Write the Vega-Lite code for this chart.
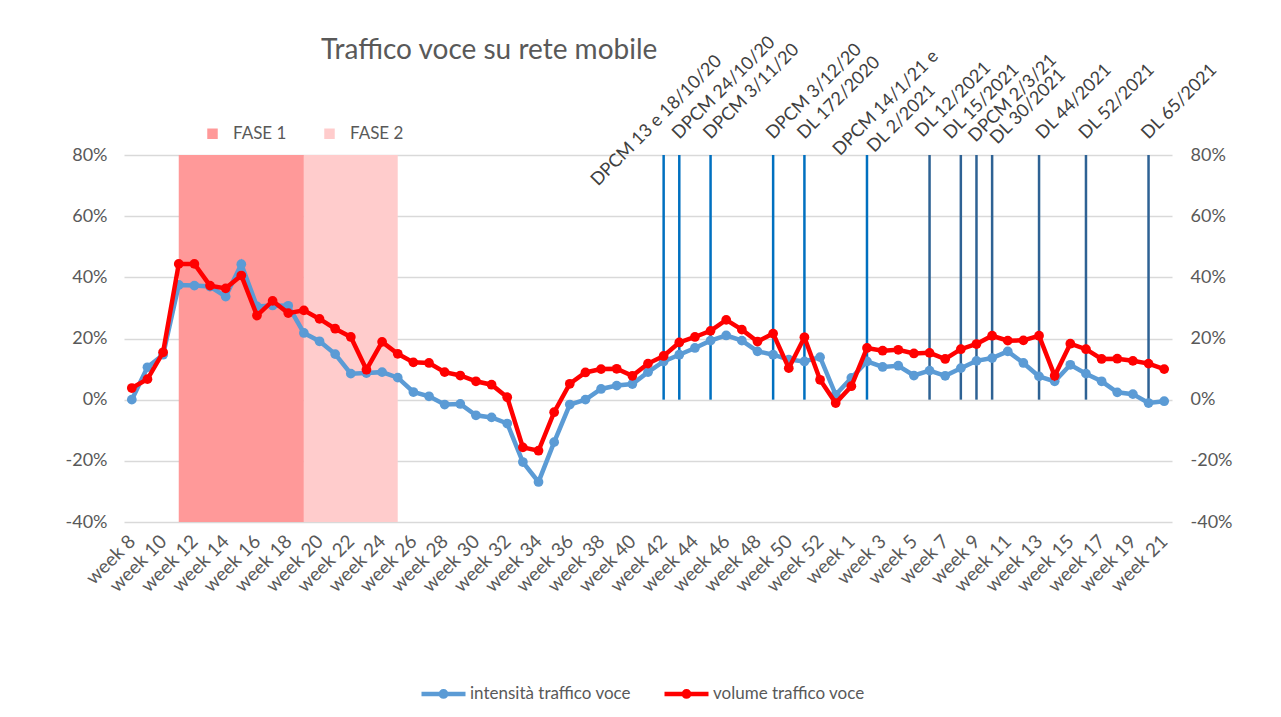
{
  "$schema": "https://vega.github.io/schema/vega-lite/v6.json",
  "autosize": {"type": "none"},
  "padding": {"left": 124, "top": 155, "right": 109, "bottom": 195},
  "width": 1048,
  "height": 367,
  "background": "white",
  "config": {
    "font": "Lato",
    "view": {"stroke": null},
    "axis": {"labelFont": "Lato", "labelColor": "#595959", "labelFontSize": 18, "title": null, "domain": false, "ticks": false},
    "legend": {"labelFont": "Lato", "labelColor": "#595959", "labelFontSize": 17, "labelLimit": 0},
    "text": {"font": "Lato", "fontSize": 18, "color": "#404040", "angle": -45}
  },
  "title": {"text": "Traffico voce su rete mobile", "anchor": "start", "dx": 256, "dy": 36, "fontSize": 28, "font": "Lato", "fontWeight": "normal", "color": "#595959"},
  "datasets": {
    "traffico": [
      {"w": "2020-08", "intensità traffico voce": 0.0, "volume traffico voce": 3.8},
      {"w": "2020-09", "intensità traffico voce": 10.6, "volume traffico voce": 6.7},
      {"w": "2020-10", "intensità traffico voce": 14.7, "volume traffico voce": 15.5},
      {"w": "2020-11", "intensità traffico voce": 37.5, "volume traffico voce": 44.4},
      {"w": "2020-12", "intensità traffico voce": 37.3, "volume traffico voce": 44.4},
      {"w": "2020-13", "intensità traffico voce": 37.0, "volume traffico voce": 37.3},
      {"w": "2020-14", "intensità traffico voce": 33.7, "volume traffico voce": 36.4},
      {"w": "2020-15", "intensità traffico voce": 44.3, "volume traffico voce": 40.6},
      {"w": "2020-16", "intensità traffico voce": 30.5, "volume traffico voce": 27.5},
      {"w": "2020-17", "intensità traffico voce": 30.8, "volume traffico voce": 32.3},
      {"w": "2020-18", "intensità traffico voce": 30.7, "volume traffico voce": 28.3},
      {"w": "2020-19", "intensità traffico voce": 21.8, "volume traffico voce": 29.2},
      {"w": "2020-20", "intensità traffico voce": 19.1, "volume traffico voce": 26.4},
      {"w": "2020-21", "intensità traffico voce": 14.9, "volume traffico voce": 23.2},
      {"w": "2020-22", "intensità traffico voce": 8.5, "volume traffico voce": 20.5},
      {"w": "2020-23", "intensità traffico voce": 8.7, "volume traffico voce": 9.8},
      {"w": "2020-24", "intensità traffico voce": 9.0, "volume traffico voce": 18.9},
      {"w": "2020-25", "intensità traffico voce": 7.2, "volume traffico voce": 15.0},
      {"w": "2020-26", "intensità traffico voce": 2.5, "volume traffico voce": 12.2},
      {"w": "2020-27", "intensità traffico voce": 1.1, "volume traffico voce": 12.0},
      {"w": "2020-28", "intensità traffico voce": -1.6, "volume traffico voce": 9.0},
      {"w": "2020-29", "intensità traffico voce": -1.4, "volume traffico voce": 7.9},
      {"w": "2020-30", "intensità traffico voce": -5.1, "volume traffico voce": 6.0},
      {"w": "2020-31", "intensità traffico voce": -5.8, "volume traffico voce": 4.9},
      {"w": "2020-32", "intensità traffico voce": -7.8, "volume traffico voce": 0.8},
      {"w": "2020-33", "intensità traffico voce": -20.4, "volume traffico voce": -15.6},
      {"w": "2020-34", "intensità traffico voce": -26.9, "volume traffico voce": -16.7},
      {"w": "2020-35", "intensità traffico voce": -13.9, "volume traffico voce": -4.1},
      {"w": "2020-36", "intensità traffico voce": -1.6, "volume traffico voce": 5.2},
      {"w": "2020-37", "intensità traffico voce": 0.0, "volume traffico voce": 8.9},
      {"w": "2020-38", "intensità traffico voce": 3.5, "volume traffico voce": 10.0},
      {"w": "2020-39", "intensità traffico voce": 4.6, "volume traffico voce": 10.1},
      {"w": "2020-40", "intensità traffico voce": 5.1, "volume traffico voce": 7.8},
      {"w": "2020-41", "intensità traffico voce": 9.0, "volume traffico voce": 11.8},
      {"w": "2020-42", "intensità traffico voce": 12.5, "volume traffico voce": 14.3},
      {"w": "2020-43", "intensità traffico voce": 14.7, "volume traffico voce": 18.7},
      {"w": "2020-44", "intensità traffico voce": 16.9, "volume traffico voce": 20.5},
      {"w": "2020-45", "intensità traffico voce": 19.3, "volume traffico voce": 22.5},
      {"w": "2020-46", "intensità traffico voce": 21.0, "volume traffico voce": 26.1},
      {"w": "2020-47", "intensità traffico voce": 19.3, "volume traffico voce": 22.9},
      {"w": "2020-48", "intensità traffico voce": 15.8, "volume traffico voce": 19.0},
      {"w": "2020-49", "intensità traffico voce": 14.7, "volume traffico voce": 21.6},
      {"w": "2020-50", "intensità traffico voce": 13.1, "volume traffico voce": 10.3},
      {"w": "2020-51", "intensità traffico voce": 12.5, "volume traffico voce": 20.4},
      {"w": "2020-52", "intensità traffico voce": 13.9, "volume traffico voce": 6.5},
      {"w": "2020-53", "intensità traffico voce": 1.6, "volume traffico voce": -1.1},
      {"w": "2021-01", "intensità traffico voce": 7.1, "volume traffico voce": 4.4},
      {"w": "2021-02", "intensità traffico voce": 12.5, "volume traffico voce": 16.9},
      {"w": "2021-03", "intensità traffico voce": 10.7, "volume traffico voce": 16.0},
      {"w": "2021-04", "intensità traffico voce": 11.1, "volume traffico voce": 16.3},
      {"w": "2021-05", "intensità traffico voce": 7.9, "volume traffico voce": 15.1},
      {"w": "2021-06", "intensità traffico voce": 9.5, "volume traffico voce": 15.3},
      {"w": "2021-07", "intensità traffico voce": 7.8, "volume traffico voce": 13.3},
      {"w": "2021-08", "intensità traffico voce": 10.3, "volume traffico voce": 16.5},
      {"w": "2021-09", "intensità traffico voce": 12.7, "volume traffico voce": 18.2},
      {"w": "2021-10", "intensità traffico voce": 13.6, "volume traffico voce": 20.9},
      {"w": "2021-11", "intensità traffico voce": 15.8, "volume traffico voce": 19.3},
      {"w": "2021-12", "intensità traffico voce": 12.0, "volume traffico voce": 19.4},
      {"w": "2021-13", "intensità traffico voce": 7.6, "volume traffico voce": 20.9},
      {"w": "2021-14", "intensità traffico voce": 6.0, "volume traffico voce": 7.8},
      {"w": "2021-15", "intensità traffico voce": 11.4, "volume traffico voce": 18.3},
      {"w": "2021-16", "intensità traffico voce": 8.5, "volume traffico voce": 16.5},
      {"w": "2021-17", "intensità traffico voce": 6.0, "volume traffico voce": 13.3},
      {"w": "2021-18", "intensità traffico voce": 2.4, "volume traffico voce": 13.4},
      {"w": "2021-19", "intensità traffico voce": 1.8, "volume traffico voce": 12.7},
      {"w": "2021-20", "intensità traffico voce": -1.1, "volume traffico voce": 11.8},
      {"w": "2021-21", "intensità traffico voce": -0.5, "volume traffico voce": 10.0}
    ],
    "fasi": [
      {"fase": "FASE 1", "w": "2020-11", "w2": "2020-19"},
      {"fase": "FASE 2", "w": "2020-19", "w2": "2020-25"}
    ],
    "decreti": [
      {"w": "2020-42", "label": "DPCM 13 e 18/10/20"},
      {"w": "2020-43", "label": "DPCM 24/10/20"},
      {"w": "2020-45", "label": "DPCM 3/11/20"},
      {"w": "2020-49", "label": "DPCM 3/12/20"},
      {"w": "2020-51", "label": "DL 172/2020"},
      {"w": "2021-02", "label": "DPCM 14/1/21 e\nDL 2/2021"},
      {"w": "2021-06", "label": "DL 12/2021"},
      {"w": "2021-08", "label": "DL 15/2021"},
      {"w": "2021-09", "label": "DPCM 2/3/21"},
      {"w": "2021-10", "label": "DL 30/2021"},
      {"w": "2021-13", "label": "DL 44/2021"},
      {"w": "2021-16", "label": "DL 52/2021"},
      {"w": "2021-20", "label": "DL 65/2021"}
    ]
  },
  "encoding": {
    "x": {
      "field": "w", "type": "ordinal",
      "scale": {"type": "point", "padding": 0.5},
      "axis": {
        "labelAngle": -45, "labelAlign": "right", "labelBaseline": "middle", "labelPadding": 16,
        "grid": false, "labelOverlap": false, "labelFontSize": 19,
        "labelExpr": "((slice(datum.value,0,4) == '2020') == (toNumber(slice(datum.value,5)) % 2 == 0)) ? 'week ' + toNumber(slice(datum.value,5)) : ''"
      }
    }
  },
  "layer": [
    {
      "data": {"name": "fasi"},
      "mark": {"type": "rect"},
      "encoding": {
        "x2": {"field": "w2"},
        "y": {"datum": 80, "type": "quantitative", "axis": null},
        "y2": {"datum": -40},
        "fill": {
          "field": "fase", "type": "nominal",
          "scale": {"domain": ["FASE 1", "FASE 2"], "range": ["#ff9999", "#ffcccc"]},
          "legend": {"orient": "none", "legendX": 80, "legendY": -30, "direction": "horizontal", "title": null, "symbolType": "square", "symbolSize": 110, "symbolStrokeWidth": 0, "labelOffset": 12, "columnPadding": 34}
        }
      }
    },
    {
      "data": {"name": "decreti"},
      "mark": {"type": "rule", "strokeWidth": 2.5},
      "encoding": {
        "y": {"datum": 0, "type": "quantitative", "axis": null},
        "y2": {"datum": 80},
        "color": {"condition": {"test": "datum.w >= '2021-06'", "value": "#2e6294"}, "value": "#0070c0"}
      }
    },
    {
      "data": {"name": "decreti"},
      "transform": [{"filter": {"field": "w", "oneOf": ["2020-43", "2020-45", "2020-49", "2020-51", "2021-16", "2021-20"]}}],
      "mark": {"type": "text", "align": "left", "baseline": "alphabetic", "dx": 10.6, "dy": -10.6},
      "encoding": {"y": {"datum": 80, "type": "quantitative", "axis": null}, "text": {"field": "label"}}
    },
    {
      "data": {"name": "decreti"},
      "transform": [{"filter": "datum.w == '2021-06'"}],
      "mark": {"type": "text", "align": "left", "baseline": "alphabetic", "dx": 7, "dy": -17},
      "encoding": {"y": {"datum": 80, "type": "quantitative", "axis": null}, "text": {"field": "label"}}
    },
    {
      "data": {"name": "decreti"},
      "transform": [{"filter": "datum.w == '2021-08'"}],
      "mark": {"type": "text", "align": "left", "baseline": "alphabetic", "dx": 3.5, "dy": -17.7},
      "encoding": {"y": {"datum": 80, "type": "quantitative", "axis": null}, "text": {"field": "label"}}
    },
    {
      "data": {"name": "decreti"},
      "transform": [{"filter": "datum.w == '2021-09'"}],
      "mark": {"type": "text", "align": "left", "baseline": "alphabetic", "dx": 7.8, "dy": -9.2},
      "encoding": {"y": {"datum": 80, "type": "quantitative", "axis": null}, "text": {"field": "label"}}
    },
    {
      "data": {"name": "decreti"},
      "transform": [{"filter": "datum.w == '2021-10'"}],
      "mark": {"type": "text", "align": "left", "baseline": "alphabetic", "dx": 10.6, "dy": -3.5},
      "encoding": {"y": {"datum": 80, "type": "quantitative", "axis": null}, "text": {"field": "label"}}
    },
    {
      "data": {"name": "decreti"},
      "transform": [{"filter": "datum.w == '2021-13'"}],
      "mark": {"type": "text", "align": "left", "baseline": "alphabetic", "dx": 13.4, "dy": -7.8},
      "encoding": {"y": {"datum": 80, "type": "quantitative", "axis": null}, "text": {"field": "label"}}
    },
    {
      "data": {"name": "decreti"},
      "transform": [{"filter": "datum.w == '2020-42'"}],
      "mark": {"type": "text", "align": "left", "baseline": "alphabetic", "dx": -69, "dy": -24},
      "encoding": {"y": {"datum": 80, "type": "quantitative", "axis": null}, "text": {"field": "label"}}
    },
    {
      "data": {"name": "decreti"},
      "transform": [{"filter": "datum.w == '2021-02'"}],
      "mark": {"type": "text", "align": "center", "baseline": "alphabetic", "lineBreak": "\n", "lineHeight": 22, "dx": 50, "dy": -18},
      "encoding": {"y": {"datum": 80, "type": "quantitative", "axis": null}, "text": {"field": "label"}}
    },
    {
      "data": {"name": "traffico"},
      "transform": [{"fold": ["intensità traffico voce"], "as": ["serie", "v"]}],
      "mark": {"type": "line", "strokeWidth": 4.5, "point": {"size": 95, "filled": true}},
      "encoding": {
        "y": {
          "field": "v", "type": "quantitative",
          "scale": {"domain": [-40, 80], "nice": false, "zero": false},
          "axis": {"orient": "left", "values": [-40, -20, 0, 20, 40, 60, 80], "labelExpr": "datum.value + '%'", "grid": true, "gridColor": "#d9d9d9", "gridWidth": 1.5, "labelPadding": 17}
        },
        "color": {
          "field": "serie", "type": "nominal",
          "scale": {"domain": ["intensità traffico voce", "volume traffico voce"], "range": ["#5b9bd5", "#ff0000"]},
          "legend": {"orient": "none", "legendX": 295, "legendY": 514, "direction": "horizontal", "title": null, "symbolType": "M-1,0L1,0M0.12,0A0.12,0.12 0 1,1 -0.12,0A0.12,0.12 0 1,1 0.12,0", "symbolSize": 1936, "symbolStrokeWidth": 4.5, "labelOffset": 2, "columnPadding": 24}
        }
      }
    },
    {
      "data": {"name": "traffico"},
      "transform": [{"fold": ["volume traffico voce"], "as": ["serie", "v"]}],
      "mark": {"type": "line", "strokeWidth": 4.5, "point": {"size": 95, "filled": true}},
      "encoding": {
        "y": {
          "field": "v", "type": "quantitative",
          "axis": {"orient": "right", "values": [-40, -20, 0, 20, 40, 60, 80], "labelExpr": "datum.value + '%'", "grid": false, "labelPadding": 18}
        },
        "color": {"field": "serie", "type": "nominal"}
      }
    }
  ],
  "resolve": {"axis": {"y": "independent"}}
}
